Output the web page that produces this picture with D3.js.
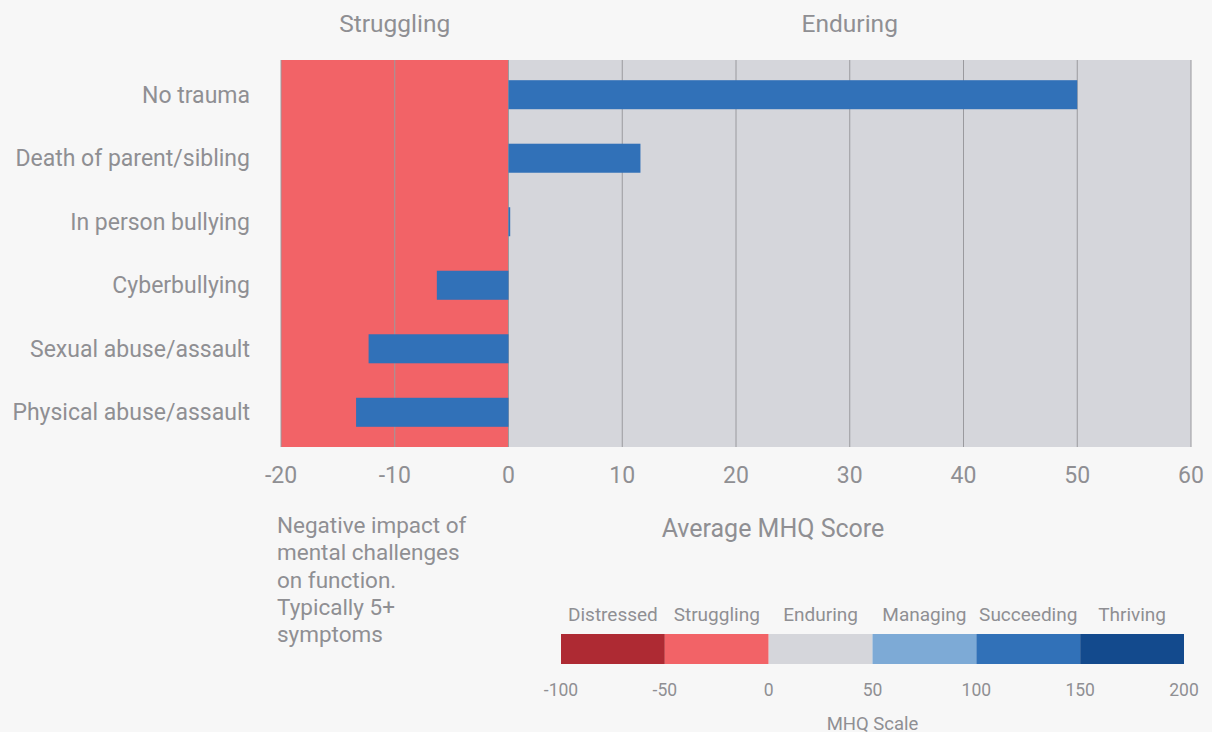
<!DOCTYPE html>
<html>
<head>
<meta charset="utf-8">
<script src="https://cdn.jsdelivr.net/npm/d3@7"></script>
<style>
  body { margin: 0; background: #f7f7f7; }
  svg { display: block; font-family: Roboto, "Noto Sans", sans-serif; }
  text { fill: #8f8f93; }
</style>
</head>
<body>
<svg></svg>
<script>
const categories = ['No trauma', 'Death of parent/sibling', 'In person bullying',
  'Cyberbullying', 'Sexual abuse/assault', 'Physical abuse/assault'];
const scores = [50, 11.6, 0.15, -6.3, -12.3, -13.4];
const xTicks = [-20, -10, 0, 10, 20, 30, 40, 50, 60];

// legend data
const levels = ['Distressed', 'Struggling', 'Enduring', 'Managing', 'Succeeding', 'Thriving'];
const levelColors = ['#ae2a33', '#f26367', '#d5d6db', '#7daad6', '#3171b8', '#134a8d'];
const levelBreaks = [-100, -50, 0, 50, 100, 150, 200];

const noteLines = ['Negative impact of', 'mental challenges', 'on function.', 'Typically 5+', 'symptoms'];

const width = 1212, height = 732;
const margin = {top: 60, left: 281, right: 21, bottom: 285};
const innerBottom = height - margin.bottom;

const svg = d3.select('svg')
    .attr('width', width)
    .attr('height', height);

const x = d3.scaleLinear()
    .domain([-20, 60])
    .range([margin.left, width - margin.right]);

const y = d3.scaleBand()
    .domain(categories)
    .range([margin.top, innerBottom])
    .paddingInner(0.543)
    .paddingOuter(0.318);

// zone backgrounds
svg.append('rect')
    .attr('x', x(-20)).attr('y', margin.top)
    .attr('width', x(0) - x(-20)).attr('height', innerBottom - margin.top)
    .attr('fill', levelColors[1]);
svg.append('rect')
    .attr('x', x(0)).attr('y', margin.top)
    .attr('width', x(60) - x(0)).attr('height', innerBottom - margin.top)
    .attr('fill', levelColors[2]);

// grid lines
svg.selectAll('line.grid').data(xTicks)
    .enter().append('line')
        .attr('class', 'grid')
        .attr('x1', d => x(d)).attr('x2', d => x(d))
        .attr('y1', margin.top).attr('y2', innerBottom)
        .attr('stroke', '#9a9a9e')
        .attr('stroke-width', 1);

// bars
svg.selectAll('rect.bar').data(scores)
    .enter().append('rect')
        .attr('class', 'bar')
        .attr('x', d => x(Math.min(0, d)))
        .attr('y', (d, i) => y(categories[i]))
        .attr('width', d => Math.abs(x(d) - x(0)))
        .attr('height', y.bandwidth())
        .attr('fill', '#3171b8');

// y labels
svg.selectAll('text.cat').data(categories)
    .enter().append('text')
        .attr('x', 250)
        .attr('y', d => y(d) + y.bandwidth() / 2)
        .attr('dy', '0.35em')
        .attr('text-anchor', 'end')
        .attr('font-size', 23)
        .text(d => d);

// x axis tick labels
svg.selectAll('text.tick').data(xTicks)
    .enter().append('text')
        .attr('x', d => x(d))
        .attr('y', 483)
        .attr('text-anchor', 'middle')
        .attr('font-size', 23)
        .text(d => d);

// zone titles
svg.append('text')
    .attr('x', (x(-20) + x(0)) / 2).attr('y', 32)
    .attr('text-anchor', 'middle').attr('font-size', 24.5)
    .text('Struggling');
svg.append('text')
    .attr('x', (x(0) + x(60)) / 2).attr('y', 32)
    .attr('text-anchor', 'middle').attr('font-size', 24.5)
    .text('Enduring');

svg.append('text')
    .attr('x', 773).attr('y', 537)
    .attr('text-anchor', 'middle').attr('font-size', 25)
    .text('Average MHQ Score');

// note under the struggling zone
svg.append('text')
    .attr('x', 277).attr('y', 533)
    .attr('font-size', 22.5)
    .selectAll('tspan').data(noteLines)
    .enter().append('tspan')
        .attr('x', 277)
        .attr('dy', (d, i) => i ? 27.3 : 0)
        .text(d => d);

// MHQ scale legend
const lx = d3.scaleLinear()
    .domain([-100, 200])
    .range([561, 1184]);

const legend = svg.append('g');
legend.selectAll('rect').data(levels)
    .enter().append('rect')
        .attr('x', (d, i) => lx(levelBreaks[i]))
        .attr('y', 634)
        .attr('width', (d, i) => lx(levelBreaks[i + 1]) - lx(levelBreaks[i]))
        .attr('height', 30)
        .attr('fill', (d, i) => levelColors[i]);

legend.selectAll('text.lvl').data(levels)
    .enter().append('text')
        .attr('x', (d, i) => (lx(levelBreaks[i]) + lx(levelBreaks[i + 1])) / 2)
        .attr('y', 621)
        .attr('text-anchor', 'middle')
        .attr('font-size', 19)
        .text(d => d);

legend.selectAll('text.brk').data(levelBreaks)
    .enter().append('text')
        .attr('x', d => lx(d))
        .attr('y', 696)
        .attr('text-anchor', 'middle')
        .attr('font-size', 17.5)
        .text(d => d);

legend.append('text')
    .attr('x', lx(50)).attr('y', 730)
    .attr('text-anchor', 'middle').attr('font-size', 18.5)
    .text('MHQ Scale');
</script>
</body>
</html>
